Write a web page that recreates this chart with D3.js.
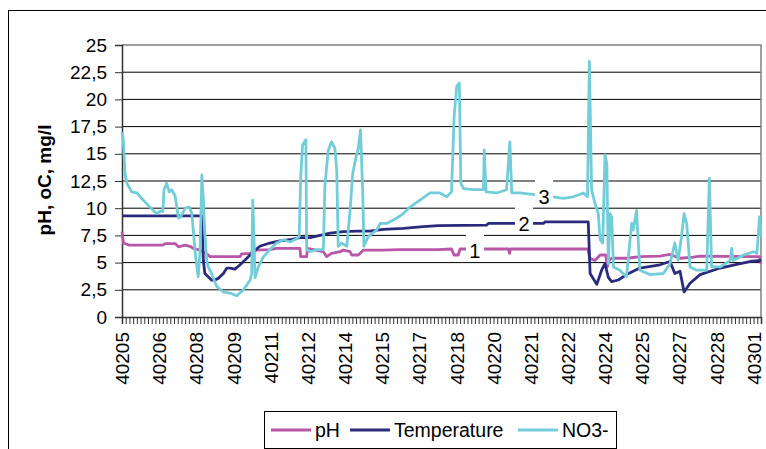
<!DOCTYPE html>
<meta charset="utf-8">
<head>
<style>
  body { margin: 0; background: #fff; }
  text { font-family: "Liberation Sans", Arial, sans-serif; fill: #000; }
  .grid line { stroke: #000; stroke-width: 1; }
  .axis path, .axis line { stroke: #333; }
</style>
<script src="https://cdn.jsdelivr.net/npm/d3@7"></script>
</head>
<body>
<svg id="chart" width="766" height="449"></svg>
<script>
// category axis: one tick per reading, a label on every 10th
var nCategories = 173;
var tickLabels = ["40205","40206","40208","40209","40211","40212","40214","40215","40217",
                  "40218","40220","40221","40222","40224","40225","40227","40228","40301"];
var yTicks = [0, 2.5, 5, 7.5, 10, 12.5, 15, 17.5, 20, 22.5, 25];

// [category index, value]
var phData = [[0,7.85],[0.4,6.8],[2,6.6],[11,6.6],[11.6,6.75],[14.3,6.75],[15.2,6.45],[17,6.6],[18.3,6.5],
  [19.2,6.3],[21,6.15],[22.8,5.8],[23.7,5.55],[31.8,5.55],[32.2,5.8],[34.5,5.85],[36.3,6.15],[39.8,6.2],
  [41.6,6.3],[47.9,6.3],[48.1,5.55],[49.7,5.55],[49.9,6.3],[54.2,6.0],[55.1,5.55],[56.4,5.85],[58.7,6.0],
  [59.6,6.15],[61.4,6.0],[61.8,5.7],[63.6,5.7],[65,6.15],[70.3,6.15],[74.8,6.2],[85,6.2],[88.7,6.25],
  [89.4,5.7],[90.5,5.7],[91,6.25],[104,6.25],[104.3,5.85],[104.6,6.25],[125.4,6.25],[125.9,5.4],[127.3,5.2],
  [128.7,5.7],[130.2,5.7],[130.6,4.6],[131.1,5.2],[131.8,5.4],[136,5.4],[139.4,5.55],[144.8,5.6],[147.5,5.75],
  [150.2,5.4],[153.8,5.5],[155.6,5.6],[171.6,5.55],[172,4.9]];

var tempData = [[0,9.3],[21.5,9.3],[21.9,5.2],[22.3,4.0],[23.2,3.7],[24.1,3.4],[25,3.4],[25.9,3.55],[27.3,4.0],
  [28.2,4.5],[29.1,4.5],[30.4,4.4],[31.8,4.8],[33.6,5.4],[35.3,6.0],[37.1,6.5],[39.8,6.8],[42.5,7.0],[45.2,7.1],
  [47.9,7.3],[50.6,7.3],[53.3,7.5],[56,7.7],[59.6,7.85],[63.2,7.9],[66.8,7.9],[70.3,8.05],[75.7,8.15],[81.1,8.3],
  [85.1,8.4],[98.2,8.45],[98.6,8.6],[113.5,8.6],[113.9,8.75],[125.5,8.75],[126,4.0],[127.8,3.0],[129.1,4.3],
  [130,4.9],[130.9,3.65],[131.8,3.25],[133.6,3.4],[135.8,3.9],[139.4,4.5],[144.8,4.8],[147.5,5.1],[148.8,4.0],
  [150.2,4.2],[151.3,2.3],[152.9,3.1],[155.6,3.9],[161,4.5],[166.4,4.9],[169,5.1],[172,5.2]];

var no3Data = [[0,17.0],[0.3,16.5],[0.8,13.2],[1.3,12.3],[2.6,11.5],[4,11.4],[5.7,10.75],[7.5,10.1],[9.3,9.5],
  [10.2,9.7],[11,9.7],[11.3,11.7],[12,12.3],[12.7,11.5],[13.4,11.7],[14.3,11.1],[15.2,9.1],[15.8,9.2],[17,10.0],
  [18.1,10.1],[18.8,9.5],[19.7,5.9],[20.5,3.7],[21,5.9],[21.5,13.05],[21.9,10.75],[22.3,7.7],[22.8,5.2],[23.2,4.6],
  [24.1,4.0],[25.5,2.8],[27.3,2.3],[29,2.2],[30.9,1.95],[32.7,2.5],[34.5,3.4],[34.9,4.0],[35.2,10.75],[35.5,7.7],
  [35.8,3.6],[36.7,4.6],[38,5.5],[39.8,6.2],[41.6,6.8],[43.4,7.1],[45.2,6.9],[47,7.2],[47.7,7.4],[48.1,12.9],
  [48.6,15.8],[49.5,16.3],[49.7,6.2],[50.6,6.0],[52.4,6.2],[54.2,6.2],[54.6,12.0],[55.5,15.3],[56.4,16.1],
  [57.3,15.5],[57.8,13.5],[58.2,6.5],[59.1,6.8],[60.5,6.5],[61.4,9.8],[62.1,13.2],[63,14.7],[63.6,15.5],
  [64.2,17.2],[64.8,11.4],[65.1,6.5],[66.3,7.4],[68.6,8.0],[69.5,8.6],[71.3,8.6],[74,9.1],[75.7,9.5],[77.5,10.1],
  [80.2,10.75],[82.9,11.4],[85.6,11.4],[87.4,11.05],[88.7,11.5],[89.4,18.4],[90.1,21.2],[90.8,21.5],[91.2,12.3],
  [91.9,11.8],[94.6,11.7],[97.3,11.7],[97.5,15.35],[98,11.5],[100.9,11.4],[103.5,11.7],[104.4,16.1],[104.9,11.4],
  [107.1,11.4],[109.8,11.3],[113,11.2],[116.1,11.05],[118.8,10.9],[121.5,11.05],[124.2,11.4],[125.3,11.05],
  [125.8,23.5],[126.4,11.7],[127.3,10.45],[128.2,9.5],[128.7,7.1],[129.4,6.8],[130,14.9],[130.5,14.1],[130.9,4.9],
  [131.4,9.5],[131.8,9.2],[132.3,4.6],[134,4.3],[135.8,3.7],[137.2,8.6],[137.6,8.0],[138.5,9.8],[139.4,4.3],
  [142.1,3.9],[145.7,4.0],[147.5,4.9],[148.8,6.8],[149.7,5.2],[150.6,7.4],[151.3,9.5],[152,8.6],[152.9,4.6],
  [154.7,4.3],[157.4,4.3],[158.1,12.75],[158.7,4.6],[161,4.6],[163.7,5.2],[164.1,6.3],[164.5,5.2],[167.3,5.7],
  [170,6.0],[170.9,5.85],[171.6,9.2],[172,7.4]];

var series = [
  {name: "pH", data: phData, color: "#b856a8", tag: "1", at: [95, 6.07]},
  {name: "Temperature", data: tempData, color: "#2b2a7c", tag: "2", at: [108.2, 8.55]},
  {name: "NO3-", data: no3Data, color: "#72cdd9", tag: "3", at: [113.6, 11.06]}
];

var svg = d3.select("#chart");
var plotLeft = 122, plotRight = 761, plotTop = 45, plotBottom = 317;

var x = d3.scaleLinear().domain([0, nCategories - 1]).range([plotLeft, plotRight]);
var y = d3.scaleLinear().domain([0, 25]).range([plotBottom, plotTop]);

// outer chart frame
svg.append("rect")
  .attr("x", 8.5).attr("y", 10.5)
  .attr("width", 800).attr("height", 500)
  .attr("fill", "#fff").attr("stroke", "#000");

// gridlines
svg.append("g").attr("class", "grid")
  .selectAll("line")
  .data(yTicks.filter(function(d) { return d > 0 && d < 25; }))
  .enter().append("line")
  .attr("x1", plotLeft).attr("x2", plotRight)
  .attr("y1", function(d) { return y(d); })
  .attr("y2", function(d) { return y(d); });

// plot area border (top / right)
svg.append("path")
  .attr("d", "M" + plotLeft + "," + y(25) + "H" + plotRight + "V" + plotBottom)
  .attr("fill", "none").attr("stroke", "#808080").attr("stroke-width", 1.5);

// y axis
var yAxis = svg.append("g").attr("class", "axis")
  .attr("transform", "translate(" + plotLeft + ",0)")
  .call(d3.axisLeft(y).tickValues(yTicks).tickSize(7).tickPadding(8)
    .tickFormat(function(d) { return String(d).replace(".", ","); }));
yAxis.selectAll("text").style("font-size", "19px").attr("fill", "#000");
yAxis.select(".domain").attr("stroke-width", 1.5);

// x axis
var xAxis = svg.append("g").attr("class", "axis")
  .attr("transform", "translate(0," + plotBottom + ")")
  .call(d3.axisBottom(x).tickValues(d3.range(nCategories)).tickSize(7)
    .tickFormat(function(d) { return d % 10 === 0 ? tickLabels[d / 10] : ""; }));
xAxis.selectAll("text")
  .style("font-size", "19px").attr("fill", "#000")
  .attr("transform", "rotate(-90)")
  .attr("text-anchor", "end")
  .attr("x", -15).attr("y", 0).attr("dy", "0.35em");
xAxis.select(".domain").attr("stroke-width", 1.5);

// y title
svg.append("text")
  .attr("transform", "translate(51,180) rotate(-90)")
  .attr("text-anchor", "middle")
  .style("font-size", "19px").style("font-weight", "bold")
  .text("pH, oC, mg/l");

// lines
var line = d3.line()
  .x(function(d) { return x(d[0]); })
  .y(function(d) { return y(d[1]); });

svg.append("g").selectAll("path")
  .data(series)
  .enter().append("path")
  .attr("d", function(d) { return line(d.data); })
  .attr("fill", "none")
  .attr("stroke", function(d) { return d.color; })
  .attr("stroke-width", 2.8)
  .attr("stroke-linejoin", "round");

// series tags 1 2 3
var tags = svg.append("g").selectAll("g")
  .data(series)
  .enter().append("g")
  .attr("transform", function(d) { return "translate(" + x(d.at[0]) + "," + y(d.at[1]) + ")"; });
tags.append("rect")
  .attr("x", -9).attr("y", -17).attr("width", 18).attr("height", 26)
  .attr("fill", "#fff");
tags.append("text")
  .attr("text-anchor", "middle").attr("dy", "0.35em")
  .style("font-size", "20px")
  .text(function(d) { return d.tag; });

// legend
var legend = svg.append("g");
legend.append("rect")
  .attr("x", 264.5).attr("y", 411.5).attr("width", 352).attr("height", 37)
  .attr("fill", "#fff").attr("stroke", "#000");
var legendX = [271, 350, 518];
var items = legend.selectAll("g.item")
  .data(series)
  .enter().append("g").attr("class", "item")
  .attr("transform", function(d, i) { return "translate(" + legendX[i] + ",430)"; });
items.append("line")
  .attr("x1", 0).attr("x2", 40)
  .attr("stroke", function(d) { return d.color; })
  .attr("stroke-width", 3);
items.append("text")
  .attr("x", 44).attr("dy", "0.35em")
  .style("font-size", "19.5px")
  .text(function(d) { return d.name; });
</script>
</body>
